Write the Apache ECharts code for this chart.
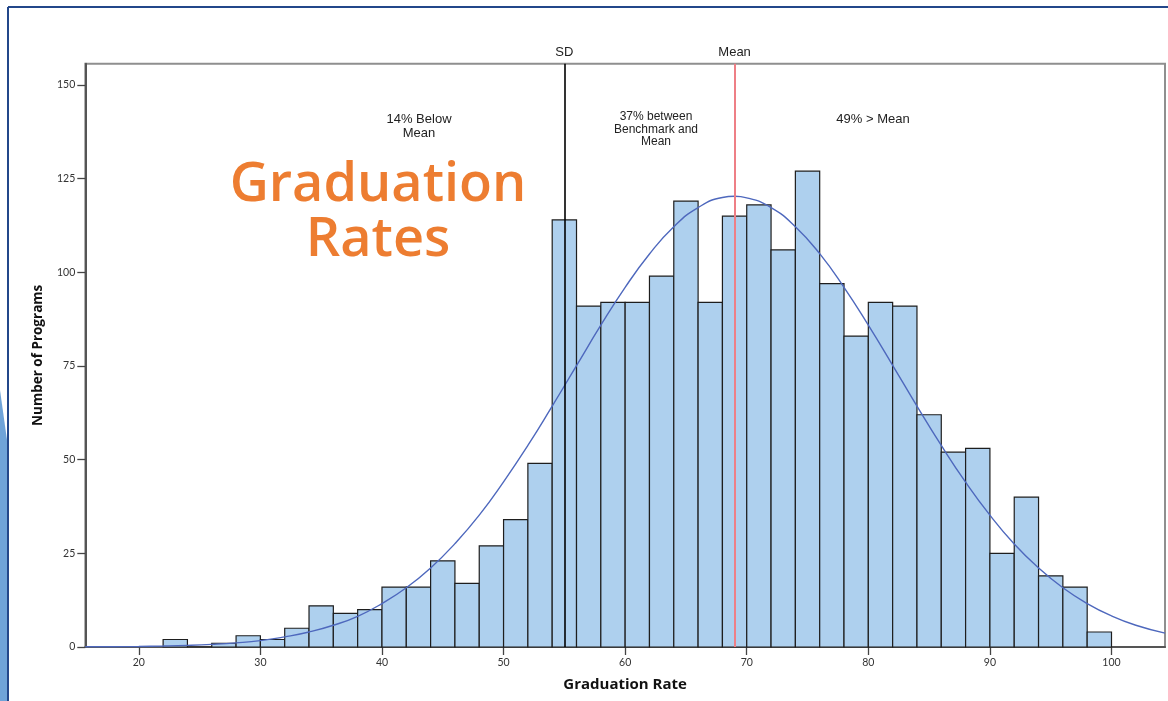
<!DOCTYPE html>
<html>
<head>
<meta charset="utf-8">
<script src="https://cdn.jsdelivr.net/npm/echarts@6/dist/echarts.min.js"></script>
<style>
  html, body { margin: 0; padding: 0; background: #ffffff; }
  #chart { width: 1168px; height: 701px; }
</style>
</head>
<body>
<div id="chart"></div>
<script>
// ---- Data ----
const binStart = [22,24,26,28,30,32,34,36,38,40,42,44,46,48,50,52,54,56,58,60,62,64,66,68,70,72,74,76,78,80,82,84,86,88,90,92,94,96,98];
const binWidth = 2;
const counts   = [2,0,1,3,2,5,11,9,10,16,16,23,17,27,34,49,114,91,92,92,99,119,92,115,118,106,127,97,83,92,91,62,52,53,25,40,19,16,4];

// Normal curve overlay, read at points along the x axis
const curveX = [15.6,18,20,22,24,26,28,30,32,34,36,38,40,42,44,46,48,50,52,54,56,58,60,62,64,66,68,69,70,72,74,76,78,80,82,84,86,88,90,92,94,96,98,100,102,104.4];
const curveY = [0.05,0.08,0.15,0.26,0.43,0.7,1.1,1.7,2.7,4.0,5.8,8.2,11.6,15.8,21.1,27.6,35.2,44.1,53.8,64.3,75.1,85.9,96.0,104.9,112.2,117.3,120.0,120.3,119.9,117.3,112.2,105.0,96.0,85.9,75.2,64.3,53.8,44.0,35.2,27.5,21.1,15.8,11.6,8.3,5.8,3.7];

const xTicks = [20,30,40,50,60,70,80,90,100];
const yTicks = [0,25,50,75,100,125,150];
const sdValue = 55;
const meanValue = 69;

const barData = binStart.map((s, i) => [s, s + binWidth, counts[i]]);
const curveData = curveX.map((x, i) => [x, curveY[i]]);

const chart = echarts.init(document.getElementById('chart'), null, { renderer: 'canvas' });

const tickFont = { fontFamily: 'Lato', fontSize: 10.5, color: '#333' };

chart.setOption({
  backgroundColor: '#ffffff',
  animation: false,
  grid: {
    left: 85.3, right: 3, top: 63.7, bottom: 54,
    show: true, borderColor: '#8f8f8f', borderWidth: 2, backgroundColor: 'transparent'
  },
  xAxis: {
    type: 'value', min: 15.6, max: 104.4,
    name: 'Graduation Rate', nameLocation: 'middle', nameGap: 30,
    nameTextStyle: { fontFamily: 'Open Sans', fontWeight: 'bold', fontSize: 15, color: '#111' },
    axisLine: { show: true, onZero: false, lineStyle: { color: '#555', width: 2 } },
    axisTick: { show: true, length: 8, inside: false, customValues: xTicks, lineStyle: { color: '#444', width: 1.3 } },
    axisLabel: Object.assign({ customValues: xTicks, margin: 10 }, tickFont),
    splitLine: { show: false }
  },
  yAxis: {
    type: 'value', min: 0, max: 155.7,
    name: 'Number of Programs', nameLocation: 'middle', nameGap: 40, nameRotate: 90,
    nameTextStyle: { fontFamily: 'Open Sans', fontWeight: 'bold', fontSize: 13.5, color: '#111' },
    axisLine: { show: true, lineStyle: { color: '#555', width: 2 } },
    axisTick: { show: true, length: 8, customValues: yTicks, lineStyle: { color: '#444', width: 1.3 } },
    axisLabel: Object.assign({ customValues: yTicks, margin: 10 }, tickFont),
    splitLine: { show: false }
  },
  series: [
    {
      type: 'custom',
      name: 'Programs',
      data: barData,
      encode: { x: [0, 1], y: 2 },
      renderItem: function (params, api) {
        const p0 = api.coord([api.value(0), 0]);
        const p1 = api.coord([api.value(1), api.value(2)]);
        return {
          type: 'rect',
          shape: { x: p0[0], y: p1[1], width: p1[0] - p0[0], height: p0[1] - p1[1] },
          style: { fill: '#aed0ee', stroke: '#1e1e1e', lineWidth: 1.2 }
        };
      },
      z: 2
    },
    {
      type: 'line',
      name: 'Normal',
      data: curveData,
      smooth: true,
      showSymbol: false,
      symbol: 'none',
      lineStyle: { color: '#4e68bd', width: 1.4 },
      z: 4,
      markLine: {
        silent: true,
        symbol: ['none', 'none'],
        animation: false,
        data: [
          { xAxis: sdValue, lineStyle: { color: '#000000', width: 1.6, type: 'solid' },
            label: { formatter: 'SD', position: 'end', distance: 5, color: '#222', fontFamily: 'Liberation Sans', fontSize: 13 } },
          { xAxis: meanValue, lineStyle: { color: '#ee7f86', width: 2, type: 'solid' },
            label: { formatter: 'Mean', position: 'end', distance: 5, color: '#222', fontFamily: 'Liberation Sans', fontSize: 13 } }
        ]
      }
    }
  ],
  graphic: [
    { type: 'line', shape: { x1: 8, y1: 7, x2: 1168, y2: 7 }, style: { stroke: '#23478a', lineWidth: 2 }, z: 10 },
    { type: 'line', shape: { x1: 8, y1: 7, x2: 8, y2: 701 }, style: { stroke: '#23478a', lineWidth: 2 }, z: 10 },
    { type: 'polygon', shape: { points: [[0, 390], [7, 440], [7, 701], [0, 701]] }, style: { fill: '#6fa3d8' }, z: 9 },
    { type: 'text', x: 378, y: 213, z: 20,
      style: { text: 'Graduation\nRates', font: '600 54px "Open Sans"', fill: '#ed7d31', align: 'center', verticalAlign: 'middle', lineHeight: 55 } },
    { type: 'text', x: 419, y: 126, z: 20,
      style: { text: '14% Below\nMean', font: '13px "Liberation Sans"', fill: '#222', align: 'center', verticalAlign: 'middle', lineHeight: 14 } },
    { type: 'text', x: 656, y: 129.5, z: 20,
      style: { text: '37% between\nBenchmark and\nMean', font: '12px "Liberation Sans"', fill: '#222', align: 'center', verticalAlign: 'middle', lineHeight: 12.5 } },
    { type: 'text', x: 873, y: 119, z: 20,
      style: { text: '49% > Mean', font: '13px "Liberation Sans"', fill: '#222', align: 'center', verticalAlign: 'middle' } }
  ]
});
</script>
</body>
</html>
